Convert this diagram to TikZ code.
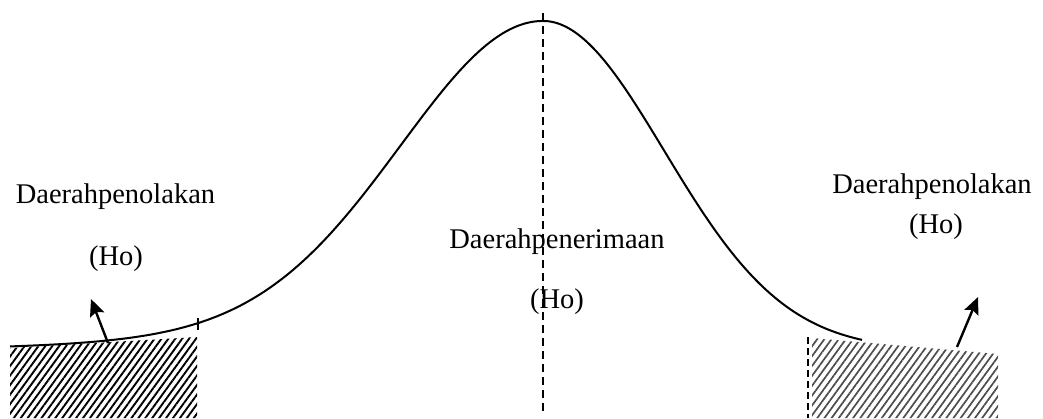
\documentclass[tikz,border=0pt]{standalone}
\usepackage{fontspec}
\setmainfont{Liberation Serif}
\usetikzlibrary{patterns.meta,arrows.meta}
\tikzset{
  lbl/.style={anchor=base,inner sep=0pt,font=\fontsize{28.5}{30}\selectfont},
  curve/.style={line width=2pt,line join=round},
  axisline/.style={line width=1.5pt,dash pattern=on 8pt off 5pt},
  hatchL/.style={pattern={Lines[angle=54,distance=5.6pt,line width=1.9pt]},pattern color=black},
  hatchR/.style={pattern={Lines[angle=54,distance=5.8pt,line width=1.7pt]},pattern color=black!70},
  pointer/.style={line width=2.4pt,-{Stealth[length=17pt,width=15pt,inset=3pt]}}
}
\begin{document}
\begin{tikzpicture}[x=1pt,y=-1pt]
\useasboundingbox (0,0) rectangle (1043,418);
% hatched regions
\path[hatchL] (10,348) -- (197,337) -- (197,418) -- (10,418) -- cycle;
\path[hatchR] (812,338) -- (998,354) -- (998,418) -- (812,418) -- cycle;
\draw[line width=1.5pt,dash pattern=on 7pt off 4pt] (808,337) -- (808,418);
% curve
\draw[curve] plot[domain=10:543,samples=160,smooth]
  (\x,{350-329*(0.9*exp(-(((\x-543)/100)^2)/(2*1.4^2))+0.1*exp(-(((\x-543)/100)^2)/(2*2.5^2)))})
  -- plot[domain=543:862,samples=110,smooth]
  (\x,{350-329*exp(-(((\x-543)/100)^2)/(2*1.21^2))});
% tick on left
\draw[line width=1.3pt] (198,318) -- (198,330);
% central dashed axis
\coordinate (axtop) at (543,13);
\coordinate (axbot) at (543,414);
\draw[axisline] (axtop) -- (axbot);
% arrows
\coordinate (la0) at (108,343);
\coordinate (la1) at (91,299);
\coordinate (ra0) at (957,347);
\coordinate (ra1) at (978,297);
\draw[pointer] (la0) -- (la1);
\draw[pointer] (ra0) -- (ra1);
% labels
\node[lbl] (l1) at (115.5,203) {Daerahpenolakan};
\node[lbl] (l2) at (116,265) {(Ho)};
\node[lbl] (m1) at (557,248) {Daerahpenerimaan};
\node[lbl] (m2) at (557,308) {(Ho)};
\node[lbl] (r1) at (932,193) {Daerahpenolakan};
\node[lbl] (r2) at (936,233) {(Ho)};
\end{tikzpicture}
\end{document}
